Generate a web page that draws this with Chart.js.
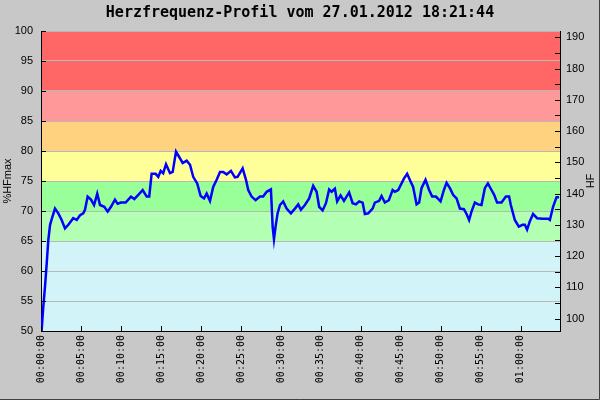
<!DOCTYPE html>
<html>
<head>
<meta charset="utf-8">
<script src="https://cdn.jsdelivr.net/npm/chart.js@4"></script>
<style>body{margin:0;background:#c8c8c8}</style>
</head>
<body>
<canvas id="chart" width="600" height="400"></canvas>
<script>
'use strict';

// elapsed time in seconds and heart rate in % of HFmax
let seconds = [
  0, 5, 17, 30, 43, 55, 68, 85, 105, 130,
  155, 180, 205, 242, 268, 293, 317, 330, 350, 375,
  398, 422, 443, 475, 500, 525, 555, 575, 600, 635,
  675, 700, 730, 763, 793, 812, 830, 860, 880, 898,
  917, 938, 968, 988, 1013, 1037, 1063, 1093, 1118, 1142,
  1172, 1198, 1223, 1243, 1268, 1292, 1318, 1343, 1367, 1393,
  1425, 1455, 1475, 1513, 1538, 1555, 1580, 1610, 1643, 1667,
  1693, 1725, 1730, 1738, 1748, 1760, 1775, 1793, 1817, 1843,
  1875, 1905, 1930, 1950, 1980, 2012, 2042, 2068, 2087, 2113,
  2138, 2162, 2180, 2205, 2222, 2248, 2273, 2312, 2338, 2363,
  2387, 2413, 2430, 2455, 2488, 2505, 2537, 2555, 2580, 2610,
  2638, 2655, 2680, 2723, 2747, 2773, 2792, 2818, 2837, 2855,
  2885, 2912, 2935, 2963, 2998, 3023, 3043, 3068, 3092, 3118,
  3143, 3173, 3193, 3212, 3230, 3255, 3280, 3305, 3330, 3353,
  3380, 3400, 3422, 3455, 3488, 3512, 3525, 3555, 3585, 3613,
  3630, 3647, 3668, 3692, 3722, 3763, 3805, 3818, 3842, 3868,
  3887
];
let hfPercent = [
  50, 50.2, 54, 57.4, 61.3, 65.2, 67.7, 69, 70.4, 69.6,
  68.5, 67.1, 67.7, 68.8, 68.5, 69.3, 69.6, 70.2, 72.4, 71.9,
  71, 72.9, 71, 70.7, 69.9, 70.7, 71.9, 71.2, 71.4, 71.4,
  72.4, 72, 72.7, 73.5, 72.4, 72.4, 76.2, 76.2, 75.7, 76.7,
  76.3, 77.8, 76.3, 76.5, 79.9, 79, 78, 78.4, 77.7, 75.7,
  74.6, 72.5, 72.1, 72.9, 71.7, 74, 75.2, 76.5, 76.5, 76.1,
  76.7, 75.6, 75.7, 77.1, 75.2, 73.5, 72.4, 71.8, 72.4, 72.4,
  73.2, 73.6, 71.3, 67.4, 65.3, 67.4, 69.6, 71, 71.6, 70.4,
  69.6, 70.4, 71.1, 70.2, 71, 72.1, 74.2, 73.2, 70.7, 70.1,
  71.3, 73.6, 73.2, 73.7, 71.6, 72.6, 71.7, 73.1, 71.3, 71.1,
  71.6, 71.4, 69.5, 69.6, 70.4, 71.4, 71.7, 72.5, 71.4, 71.8,
  73.5, 73.2, 73.5, 75.4, 76.2, 74.9, 74, 71.1, 71.4, 73.8,
  75.2, 73.5, 72.4, 72.4, 71.6, 73.5, 74.7, 73.8, 72.7, 72.1,
  70.4, 70.3, 69.5, 68.5, 69.9, 71.4, 71.1, 71, 73.8, 74.6,
  73.5, 72.7, 71.4, 71.4, 72.4, 72.4, 71, 68.5, 67.4, 67.7,
  67.7, 66.9, 68.3, 69.5, 68.8, 68.7, 68.7, 68.5, 70.7, 72.3,
  72.3
];

// training zones in %HFmax
let zoneFrom = [50, 65, 70, 75, 80, 85, 90];
let zoneTo = [65, 70, 75, 80, 85, 90, 100];
let zoneColors = ['#d2f3f7', '#b3ffb3', '#99ff99', '#ffff99', '#ffd280', '#ff9999', '#ff6666'];

let xTicks = [0, 300, 600, 900, 1200, 1500, 1800, 2100, 2400, 2700, 3000, 3300, 3600];
let hfTicks = [100, 105, 110, 115, 120, 125, 130, 135, 140, 145, 150, 155, 160, 165, 170, 175, 180, 185, 190];
let hfMax = 192;
let timeEnd = 3894;

function pad2(n) {
  return (n < 10 ? '0' : '') + n;
}

function fmtTime(s) {
  let h = Math.floor(s / 3600);
  let m = Math.floor((s % 3600) / 60);
  return pad2(h) + ':' + pad2(m) + ':' + pad2(s % 60);
}

let points = [];
for (let i = 0; i < seconds.length; i++) {
  points.push({ x: seconds[i], y: hfPercent[i] });
}

let zonePlugin = {
  id: 'zones',
  beforeDraw(chart) {
    let c = chart.ctx;
    let area = chart.chartArea;
    let y = chart.scales.y;
    c.save();
    c.fillStyle = '#c8c8c8';
    c.fillRect(0, 0, chart.width, chart.height);
    for (let i = 0; i < zoneFrom.length; i++) {
      let top = y.getPixelForValue(zoneTo[i]);
      let bottom = y.getPixelForValue(zoneFrom[i]);
      c.fillStyle = zoneColors[i];
      c.fillRect(area.left, top, area.right - area.left, bottom - top);
    }
    c.restore();
  },
  afterDraw(chart) {
    let c = chart.ctx;
    let area = chart.chartArea;
    c.save();
    c.strokeStyle = '#000';
    c.lineWidth = 1;
    c.beginPath();
    chart.scales.y.ticks.forEach(t => {
      let py = Math.round(chart.scales.y.getPixelForValue(t.value)) + 0.5;
      c.moveTo(area.left, py);
      c.lineTo(area.left + 5, py);
    });
    chart.scales.y2.ticks.forEach(t => {
      let py = Math.round(chart.scales.y2.getPixelForValue(t.value)) + 0.5;
      c.moveTo(area.right - 5, py);
      c.lineTo(area.right, py);
    });
    chart.scales.x.ticks.forEach(t => {
      let px = Math.round(chart.scales.x.getPixelForValue(t.value)) + 0.5;
      c.moveTo(px, area.bottom);
      c.lineTo(px, area.bottom - 5);
    });
    c.stroke();

    // right axis title, reading bottom to top like the left one
    c.translate(591, (area.top + area.bottom) / 2);
    c.rotate(-Math.PI / 2);
    c.fillStyle = '#000';
    c.font = '11px "Liberation Sans"';
    c.textAlign = 'center';
    c.textBaseline = 'middle';
    c.fillText('HF', 0, 0);
    c.setTransform(1, 0, 0, 1, 0, 0);

    // outer frame
    c.strokeStyle = '#404040';
    c.beginPath();
    c.moveTo(599.5, 0);
    c.lineTo(599.5, 399.5);
    c.lineTo(0, 399.5);
    c.stroke();
    c.restore();
  }
};

let chartData = {
  type: 'line',
  data: {
    datasets: [{
      data: points,
      borderColor: '#0000ff',
      borderWidth: 2.5,
      pointRadius: 0,
      tension: 0,
      fill: false
    }]
  },
  options: {
    responsive: false,
    animation: false,
    layout: { padding: 0 },
    plugins: {
      legend: { display: false },
      tooltip: { enabled: false },
      title: {
        display: true,
        text: 'Herzfrequenz-Profil vom 27.01.2012 18:21:44',
        color: '#000',
        font: { family: 'DejaVu Sans Mono', size: 15, weight: 'bold', lineHeight: 1 },
        padding: { top: 6, bottom: 10 }
      }
    },
    scales: {
      x: {
        type: 'linear',
        min: 0,
        max: timeEnd,
        afterBuildTicks: s => { s.ticks = xTicks.map(v => ({ value: v })); },
        afterFit: s => { s.height = 69; },
        ticks: {
          autoSkip: false,
          maxRotation: 90,
          minRotation: 90,
          padding: 4,
          color: '#000',
          font: { family: 'DejaVu Sans Mono', size: 10 },
          callback: v => fmtTime(v)
        },
        grid: { display: false, drawTicks: false },
        border: { display: true, color: '#000' }
      },
      y: {
        position: 'left',
        min: 50,
        max: 100,
        afterFit: s => { s.width = 41; },
        ticks: {
          stepSize: 5,
          padding: 8,
          color: '#000',
          font: { family: 'Liberation Sans', size: 11 }
        },
        grid: { color: '#b8b8b8', drawTicks: false },
        border: { display: true, color: '#000' },
        title: {
          display: true,
          text: '%HFmax',
          color: '#000',
          padding: 1,
          font: { family: 'Liberation Sans', size: 11 }
        }
      },
      y2: {
        position: 'right',
        min: hfMax * 0.5,
        max: hfMax,
        afterBuildTicks: s => { s.ticks = hfTicks.map(v => ({ value: v })); },
        afterFit: s => { s.width = 40; },
        ticks: {
          autoSkip: false,
          padding: 6,
          color: '#000',
          font: { family: 'Liberation Sans', size: 11 },
          callback: v => (v % 10 === 0 ? String(v) : '')
        },
        grid: { display: false, drawTicks: false },
        border: { display: true, color: '#000' }
      }
    }
  },
  plugins: [zonePlugin]
};

let ctx = document.getElementById('chart');
new Chart(ctx, chartData);
</script>
</body>
</html>
